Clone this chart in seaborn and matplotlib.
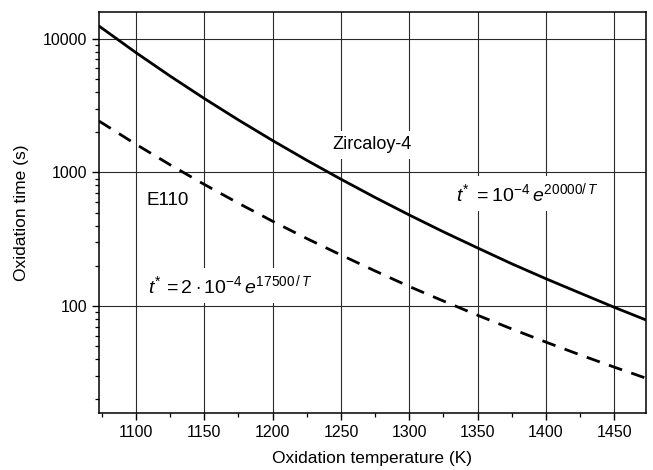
import numpy as np
import pandas as pd
import matplotlib
matplotlib.use("Agg")
import matplotlib.pyplot as plt
import seaborn as sns
from matplotlib.ticker import LogLocator, FixedLocator, NullFormatter, FixedFormatter

# Data (oxidation temperature K, oxidation time s)
temperature = [1073, 1100, 1125, 1150, 1175, 1200, 1225, 1250, 1275, 1300,
               1325, 1350, 1375, 1400, 1425, 1450, 1473]
zircaloy_time = [12440, 7875, 5258, 3572, 2467, 1731, 1232, 889, 649, 480,
                 359, 272, 207, 160, 125, 97.8, 78.8]
e110_time = [2422, 1623, 1140, 813, 588, 431, 320, 241, 183, 140,
             109, 85.3, 67.4, 53.7, 43.1, 34.9, 28.9]
series_names = ["Zircaloy-4", "E110"]
x_ticks = [1100, 1150, 1200, 1250, 1300, 1350, 1400, 1450]
y_ticks = [100, 1000, 10000]
y_tick_labels = ["100", "1000", "10000"]

df = pd.DataFrame({
    "T": temperature * 2,
    "t": zircaloy_time + e110_time,
    "alloy": [series_names[0]] * len(temperature) + [series_names[1]] * len(temperature),
})

sns.set_style("ticks")
plt.rcParams["font.family"] = ["Liberation Sans", "DejaVu Sans"]
plt.rcParams["mathtext.fontset"] = "custom"
plt.rcParams["mathtext.rm"] = "Liberation Sans"
plt.rcParams["mathtext.it"] = "Liberation Sans:italic"
plt.rcParams["mathtext.bf"] = "Liberation Sans:bold"
plt.rcParams["text.color"] = "black"
plt.rcParams["axes.labelcolor"] = "black"
plt.rcParams["xtick.color"] = "black"
plt.rcParams["ytick.color"] = "black"

fig = plt.figure(figsize=(6.53, 4.70), dpi=100)
ax = fig.add_axes([0.1516, 0.1213, 0.8374, 0.8532])

sns.lineplot(data=df, x="T", y="t", style="alloy", color="black",
             dashes={"Zircaloy-4": "", "E110": (5, 3.5)},
             linewidth=2.0, legend=False, ax=ax, zorder=4)

ax.set_yscale("log")
ax.set_xlim(1073, 1473)
ax.set_ylim(10 ** 1.2, 10 ** 4.2)

ax.xaxis.set_major_locator(FixedLocator(x_ticks))
ax.xaxis.set_minor_locator(FixedLocator([1075, 1125, 1175, 1225, 1275, 1325, 1375, 1425]))
ax.yaxis.set_major_locator(FixedLocator(y_ticks))
ax.yaxis.set_major_formatter(FixedFormatter(y_tick_labels))
ax.yaxis.set_minor_locator(LogLocator(base=10, subs=np.arange(2, 10), numticks=20))
ax.yaxis.set_minor_formatter(NullFormatter())

ax.grid(True, which="major", color="#2a2a2a", linewidth=0.8)
ax.set_axisbelow(True)

ax.tick_params(which="major", direction="out", length=5, width=1.0,
               labelsize=11.5, colors="black", labelcolor="black", top=False, right=False)
ax.tick_params(which="minor", direction="out", length=3, width=0.9,
               top=False, right=False)
for sp in ax.spines.values():
    sp.set_visible(True)
    sp.set_linewidth(1.1)
    sp.set_color("black")

ax.set_xlabel("Oxidation temperature (K)", fontsize=12.5, labelpad=8, color="black")
ax.set_ylabel("Oxidation time (s)", fontsize=12.5, labelpad=10, color="black")

box = dict(facecolor="white", edgecolor="none", pad=4)
ax.text(1273, 1607, "Zircaloy-4", fontsize=13, ha="center", va="center",
        color="black", bbox=box, zorder=3)
ax.text(1123, 612, "E110", fontsize=13.5, ha="center", va="center",
        color="black", bbox=box, zorder=3)
ax.text(1334, 700, r"$t^{*}\ = 10^{-4}\,e^{20000/\,T}$", fontsize=14,
        ha="left", va="center", color="black", bbox=box, zorder=3)
ax.text(1109, 143, r"$t^{*}\,=2\cdot 10^{-4}\,e^{17500\,/\,T}$", fontsize=14,
        ha="left", va="center", color="black", bbox=box, zorder=3)

fig.savefig("out.png", dpi=100)
